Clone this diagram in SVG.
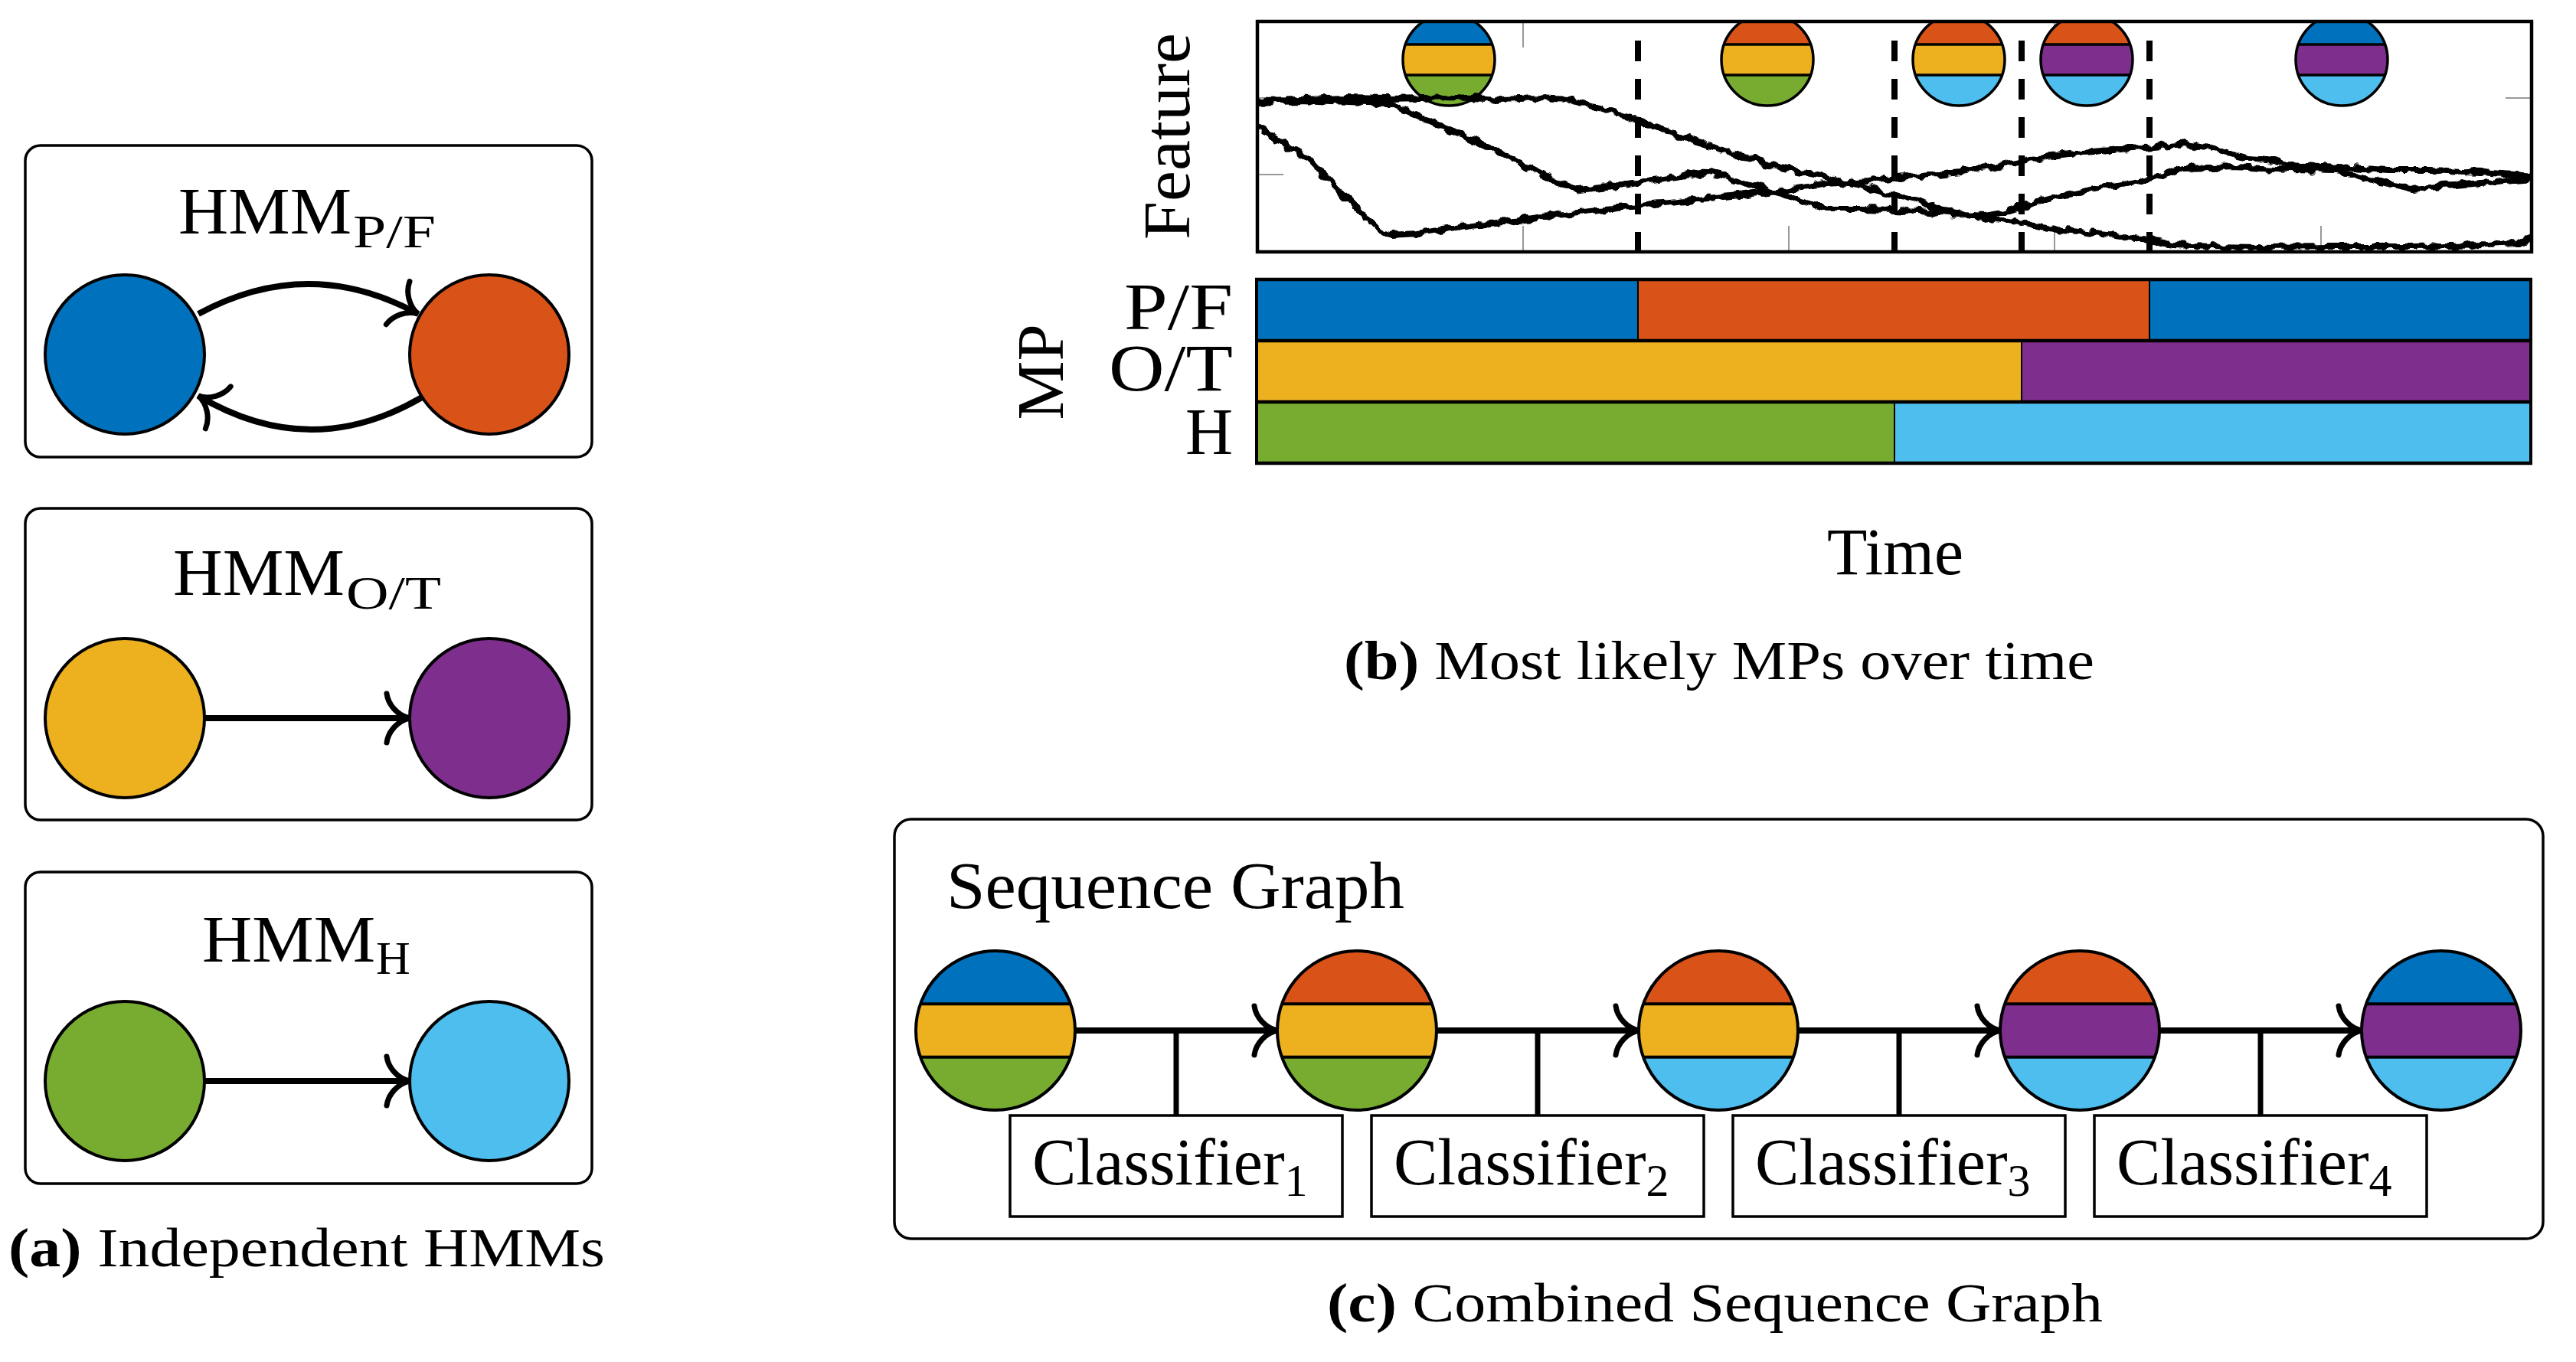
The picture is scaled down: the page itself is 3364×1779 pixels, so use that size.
<svg xmlns="http://www.w3.org/2000/svg" width="3364" height="1779" viewBox="0 0 3364 1779">
<style>
text{font-family:"Liberation Serif","Times New Roman",serif;fill:#000}
.lbl{font-size:86px}
.sub{font-size:62px}
.cap{font-size:72px}
.b{font-weight:bold}
.frame{fill:none;stroke:#000;stroke-width:3.5}
.circ{stroke:#000;stroke-width:4}
.ring{fill:none;stroke:#000;stroke-width:4}
.mring{fill:none;stroke:#000;stroke-width:3.5}
.edge{fill:none;stroke:#000;stroke-width:8;marker-end:url(#arr)}
.stub{stroke:#000;stroke-width:7}
.cbox{fill:#fff;stroke:#000;stroke-width:3.5}
.blue{fill:#0072BD}.orange{fill:#D95319}.yellow{fill:#EDB120}.purple{fill:#7E2F8E}.green{fill:#77AC30}.lblue{fill:#4DBEEE}
.sep{stroke:#000;stroke-width:4}
.msep{stroke:#000;stroke-width:3.5}
.tick{stroke:#999;stroke-width:2}
.dash{stroke:#000;stroke-width:8;stroke-dasharray:27 23}
.curve{fill:none;stroke:#000;stroke-width:8;stroke-linejoin:round}
.bar{stroke:#000;stroke-width:2}
.hline{stroke:#000;stroke-width:4.5}
</style>
<defs>
<marker id="arr" markerUnits="userSpaceOnUse" viewBox="-40 -40 50 80" markerWidth="50" markerHeight="80" refX="0" refY="0" orient="auto" overflow="visible">
<path d="M -30,-32 C -28,-17 -15,-3 0,0 C -15,3 -28,17 -30,32" fill="none" stroke="#000" stroke-width="7" stroke-linecap="round"/>
</marker>
<clipPath id="bigclip"><circle r="104"/></clipPath>
<clipPath id="miniclip"><circle r="60"/></clipPath>
<clipPath id="plotclip"><rect x="1642" y="28" width="1664" height="301"/></clipPath>
<filter id="jitter" filterUnits="userSpaceOnUse" x="1600" y="0" width="1760" height="360" color-interpolation-filters="sRGB">
<feTurbulence type="fractalNoise" baseFrequency="0.07" numOctaves="2" seed="4" result="t"/>
<feDisplacementMap in="SourceGraphic" in2="t" scale="12" xChannelSelector="R" yChannelSelector="G"/>
</filter>
</defs>

<!-- Panel (a) -->
<g id="hmm-pf">
<rect class="frame" x="33" y="190" width="740" height="407" rx="20"/>
<text class="lbl" x="233" y="305" textLength="226" lengthAdjust="spacingAndGlyphs">HMM</text>
<text class="sub" x="461" y="323" textLength="108" lengthAdjust="spacingAndGlyphs">P/F</text>
</g>
<g id="node-p"><circle class="circ blue" cx="163" cy="463" r="104"/></g>
<g id="node-f"><circle class="circ orange" cx="639" cy="463" r="104"/></g>

<g id="hmm-ot">
<rect class="frame" x="33" y="664" width="740" height="407" rx="20"/>
<text class="lbl" x="226" y="777" textLength="224" lengthAdjust="spacingAndGlyphs">HMM</text>
<text class="sub" x="452" y="795" textLength="124" lengthAdjust="spacingAndGlyphs">O/T</text>
</g>
<g id="node-o"><circle class="circ yellow" cx="163" cy="938" r="104"/></g>
<g id="node-t"><circle class="circ purple" cx="639" cy="938" r="104"/></g>

<g id="hmm-h">
<rect class="frame" x="33" y="1139" width="740" height="407" rx="20"/>
<text class="lbl" x="264" y="1256" textLength="226" lengthAdjust="spacingAndGlyphs">HMM</text>
<text class="sub" x="491" y="1272">H</text>
</g>
<g id="node-h1"><circle class="circ green" cx="163" cy="1412" r="104"/></g>
<g id="node-h2"><circle class="circ lblue" cx="639" cy="1412" r="104"/></g>

<text class="cap" x="11" y="1654" textLength="779" lengthAdjust="spacingAndGlyphs"><tspan class="b">(a)</tspan> Independent HMMs</text>

<!-- Panel (b) -->
<g id="feature-plot">
<g class="ticks">
<line class="tick" x1="1989" y1="28" x2="1989" y2="62"/>
<line class="tick" x1="2336" y1="28" x2="2336" y2="62"/>
<line class="tick" x1="2683" y1="28" x2="2683" y2="62"/>
<line class="tick" x1="3031" y1="28" x2="3031" y2="62"/>
<line class="tick" x1="1989" y1="295" x2="1989" y2="329"/>
<line class="tick" x1="2336" y1="295" x2="2336" y2="329"/>
<line class="tick" x1="2683" y1="295" x2="2683" y2="329"/>
<line class="tick" x1="3031" y1="295" x2="3031" y2="329"/>
<line class="tick" x1="1642" y1="128" x2="1676" y2="128"/>
<line class="tick" x1="1642" y1="228" x2="1676" y2="228"/>
<line class="tick" x1="3272" y1="128" x2="3306" y2="128"/>
<line class="tick" x1="3272" y1="228" x2="3306" y2="228"/>
</g>
<g clip-path="url(#plotclip)">
<g id="mini-1" transform="translate(1892,78)"><g clip-path="url(#miniclip)"><rect class="blue" x="-61" y="-61" width="122" height="41"/><rect class="yellow" x="-61" y="-20" width="122" height="40"/><rect class="green" x="-61" y="20" width="122" height="41"/><line class="msep" x1="-61" y1="-20" x2="61" y2="-20"/><line class="msep" x1="-61" y1="20" x2="61" y2="20"/></g><circle class="mring" r="60"/></g>
<g id="mini-2" transform="translate(2308,78)"><g clip-path="url(#miniclip)"><rect class="orange" x="-61" y="-61" width="122" height="41"/><rect class="yellow" x="-61" y="-20" width="122" height="40"/><rect class="green" x="-61" y="20" width="122" height="41"/><line class="msep" x1="-61" y1="-20" x2="61" y2="-20"/><line class="msep" x1="-61" y1="20" x2="61" y2="20"/></g><circle class="mring" r="60"/></g>
<g id="mini-3" transform="translate(2558,78)"><g clip-path="url(#miniclip)"><rect class="orange" x="-61" y="-61" width="122" height="41"/><rect class="yellow" x="-61" y="-20" width="122" height="40"/><rect class="lblue" x="-61" y="20" width="122" height="41"/><line class="msep" x1="-61" y1="-20" x2="61" y2="-20"/><line class="msep" x1="-61" y1="20" x2="61" y2="20"/></g><circle class="mring" r="60"/></g>
<g id="mini-4" transform="translate(2725,78)"><g clip-path="url(#miniclip)"><rect class="orange" x="-61" y="-61" width="122" height="41"/><rect class="purple" x="-61" y="-20" width="122" height="40"/><rect class="lblue" x="-61" y="20" width="122" height="41"/><line class="msep" x1="-61" y1="-20" x2="61" y2="-20"/><line class="msep" x1="-61" y1="20" x2="61" y2="20"/></g><circle class="mring" r="60"/></g>
<g id="mini-5" transform="translate(3058,78)"><g clip-path="url(#miniclip)"><rect class="blue" x="-61" y="-61" width="122" height="41"/><rect class="purple" x="-61" y="-20" width="122" height="40"/><rect class="lblue" x="-61" y="20" width="122" height="41"/><line class="msep" x1="-61" y1="-20" x2="61" y2="-20"/><line class="msep" x1="-61" y1="20" x2="61" y2="20"/></g><circle class="mring" r="60"/></g>
<g filter="url(#jitter)">
<polyline class="curve" points="1642,133 1700,131 1760,134 1814,136 1860,155 1900,172 1950,195 2000,220 2040,240 2061,248 2100,244 2140,238 2190,232 2230,224 2255,230 2290,243 2331,255 2360,265 2387,273 2430,273 2477,274 2534,278 2590,283 2640,292 2687,300 2753,307 2807,313 2837,320 2887,322 2950,323 3050,322 3150,322 3250,320 3287,318 3310,310"/>
<polyline class="curve" points="1642,131 1700,130 1760,128 1814,129 1900,127 1960,130 2010,128 2050,130 2095,143 2140,157 2180,172 2230,190 2280,205 2331,220 2387,232 2430,243 2466,253 2500,262 2534,273 2565,279 2590,281 2620,276 2653,266 2687,257 2720,250 2770,240 2807,233 2823,230 2853,220 2920,218 2987,222 3053,223 3087,233 3120,240 3152,247 3190,243 3231,240 3270,236 3310,233"/>
<polyline class="curve" points="1642,165 1680,190 1712,210 1740,240 1770,270 1800,300 1814,307 1850,305 1900,298 1937,293 2000,285 2060,278 2106,273 2160,266 2220,260 2270,255 2320,250 2387,240 2440,236 2500,230 2560,224 2612,216 2653,207 2687,203 2720,199 2770,195 2813,192 2853,188 2887,193 2937,207 2970,210 2987,215 3053,218 3120,222 3175,222 3240,225 3310,230"/>
</g>
<line class="dash" x1="2139" y1="53" x2="2139" y2="329"/>
<line class="dash" x1="2474" y1="53" x2="2474" y2="329"/>
<line class="dash" x1="2640" y1="53" x2="2640" y2="329"/>
<line class="dash" x1="2807" y1="53" x2="2807" y2="329"/>
</g>
<rect x="1642" y="28" width="1664" height="301" fill="none" stroke="#000" stroke-width="4.5"/>
<text class="lbl" transform="translate(1553,178) rotate(-90)" text-anchor="middle" textLength="270" lengthAdjust="spacingAndGlyphs">Feature</text>
</g>

<g id="mp-bars">
<rect class="bar blue" x="1641" y="365" width="498" height="80"/>
<rect class="bar orange" x="2139" y="365" width="668" height="80"/>
<rect class="bar blue" x="2807" y="365" width="498" height="80"/>
<rect class="bar yellow" x="1641" y="445" width="999" height="80"/>
<rect class="bar purple" x="2640" y="445" width="665" height="80"/>
<rect class="bar green" x="1641" y="525" width="833" height="80"/>
<rect class="bar lblue" x="2474" y="525" width="831" height="80"/>
<line class="hline" x1="1639" y1="365" x2="3307" y2="365"/>
<line class="hline" x1="1639" y1="445" x2="3307" y2="445"/>
<line class="hline" x1="1639" y1="525" x2="3307" y2="525"/>
<line class="hline" x1="1639" y1="605" x2="3307" y2="605"/>
<line class="sep" x1="1641" y1="365" x2="1641" y2="605"/>
<line class="sep" x1="3305" y1="365" x2="3305" y2="605"/>
<text class="lbl" x="1610" y="430" text-anchor="end" textLength="142" lengthAdjust="spacingAndGlyphs">P/F</text>
<text class="lbl" x="1610" y="510" text-anchor="end" textLength="162" lengthAdjust="spacingAndGlyphs">O/T</text>
<text class="lbl" x="1610" y="593" text-anchor="end">H</text>
<text class="lbl" transform="translate(1388,486) rotate(-90)" text-anchor="middle" textLength="125" lengthAdjust="spacingAndGlyphs">MP</text>
<text class="lbl" x="2386" y="750" textLength="178" lengthAdjust="spacingAndGlyphs">Time</text>
</g>

<text class="cap" x="1755" y="887" textLength="980" lengthAdjust="spacingAndGlyphs"><tspan class="b">(b)</tspan> Most likely MPs over time</text>

<!-- Panel (c) -->
<g id="sequence-graph">
<rect class="frame" x="1168" y="1070" width="2153" height="548" rx="22"/>
<text class="lbl" x="1236" y="1186" textLength="598" lengthAdjust="spacingAndGlyphs">Sequence Graph</text>
</g>

<g id="connectors">
<path class="edge" d="M 259,410 Q 403,332 546,410"/>
<path class="edge" d="M 551,519 Q 405,604 259,517"/>
<path class="edge" d="M 267,938 L 535,938"/>
<path class="edge" d="M 267,1412 L 535,1412"/>
<path class="edge" d="M 1404,1346 L 1668,1346"/>
<path class="edge" d="M 1876,1346 L 2140,1346"/>
<path class="edge" d="M 2348,1346 L 2612,1346"/>
<path class="edge" d="M 2820,1346 L 3084,1346"/>
<line class="stub" x1="1536" y1="1346" x2="1536" y2="1457"/>
<line class="stub" x1="2008" y1="1346" x2="2008" y2="1457"/>
<line class="stub" x1="2480" y1="1346" x2="2480" y2="1457"/>
<line class="stub" x1="2952" y1="1346" x2="2952" y2="1457"/>
</g>

<g id="seq-node-1" transform="translate(1300,1346)"><g clip-path="url(#bigclip)"><rect class="blue" x="-106" y="-106" width="212" height="71.3"/><rect class="yellow" x="-106" y="-34.7" width="212" height="69.4"/><rect class="green" x="-106" y="34.7" width="212" height="71.3"/><line class="sep" x1="-106" y1="-34.7" x2="106" y2="-34.7"/><line class="sep" x1="-106" y1="34.7" x2="106" y2="34.7"/></g><circle class="ring" r="104"/></g>
<g id="seq-node-2" transform="translate(1772,1346)"><g clip-path="url(#bigclip)"><rect class="orange" x="-106" y="-106" width="212" height="71.3"/><rect class="yellow" x="-106" y="-34.7" width="212" height="69.4"/><rect class="green" x="-106" y="34.7" width="212" height="71.3"/><line class="sep" x1="-106" y1="-34.7" x2="106" y2="-34.7"/><line class="sep" x1="-106" y1="34.7" x2="106" y2="34.7"/></g><circle class="ring" r="104"/></g>
<g id="seq-node-3" transform="translate(2244,1346)"><g clip-path="url(#bigclip)"><rect class="orange" x="-106" y="-106" width="212" height="71.3"/><rect class="yellow" x="-106" y="-34.7" width="212" height="69.4"/><rect class="lblue" x="-106" y="34.7" width="212" height="71.3"/><line class="sep" x1="-106" y1="-34.7" x2="106" y2="-34.7"/><line class="sep" x1="-106" y1="34.7" x2="106" y2="34.7"/></g><circle class="ring" r="104"/></g>
<g id="seq-node-4" transform="translate(2716,1346)"><g clip-path="url(#bigclip)"><rect class="orange" x="-106" y="-106" width="212" height="71.3"/><rect class="purple" x="-106" y="-34.7" width="212" height="69.4"/><rect class="lblue" x="-106" y="34.7" width="212" height="71.3"/><line class="sep" x1="-106" y1="-34.7" x2="106" y2="-34.7"/><line class="sep" x1="-106" y1="34.7" x2="106" y2="34.7"/></g><circle class="ring" r="104"/></g>
<g id="seq-node-5" transform="translate(3188,1346)"><g clip-path="url(#bigclip)"><rect class="blue" x="-106" y="-106" width="212" height="71.3"/><rect class="purple" x="-106" y="-34.7" width="212" height="69.4"/><rect class="lblue" x="-106" y="34.7" width="212" height="71.3"/><line class="sep" x1="-106" y1="-34.7" x2="106" y2="-34.7"/><line class="sep" x1="-106" y1="34.7" x2="106" y2="34.7"/></g><circle class="ring" r="104"/></g>

<g id="classifier-1"><rect class="cbox" x="1319" y="1457" width="434" height="132"/><text class="lbl" x="1348" y="1547">Classifier<tspan dy="15" font-size="60">1</tspan></text></g>
<g id="classifier-2"><rect class="cbox" x="1791" y="1457" width="434" height="132"/><text class="lbl" x="1820" y="1547">Classifier<tspan dy="15" font-size="60">2</tspan></text></g>
<g id="classifier-3"><rect class="cbox" x="2263" y="1457" width="434" height="132"/><text class="lbl" x="2292" y="1547">Classifier<tspan dy="15" font-size="60">3</tspan></text></g>
<g id="classifier-4"><rect class="cbox" x="2735" y="1457" width="434" height="132"/><text class="lbl" x="2764" y="1547">Classifier<tspan dy="15" font-size="60">4</tspan></text></g>

<text class="cap" x="1733" y="1726" textLength="1013" lengthAdjust="spacingAndGlyphs"><tspan class="b">(c)</tspan> Combined Sequence Graph</text>
</svg>
